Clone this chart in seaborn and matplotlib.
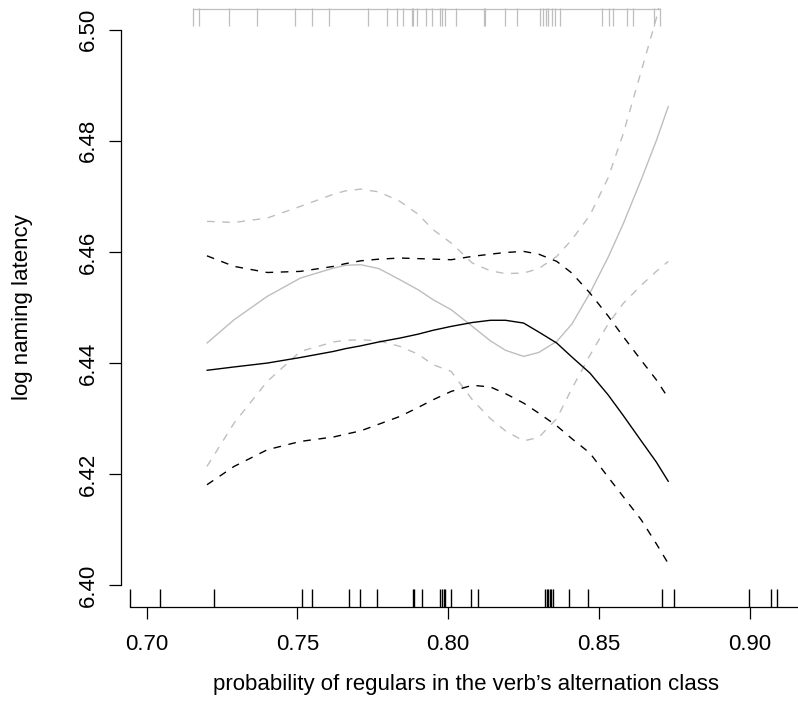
import numpy as np
import pandas as pd
import matplotlib
matplotlib.use("Agg")
import matplotlib.pyplot as plt
import seaborn as sns

# ---------- values ----------
x_grid = [0.720, 0.729, 0.740, 0.751, 0.762, 0.766, 0.771, 0.777, 0.784, 0.790, 0.795, 0.801,
          0.808, 0.814, 0.819, 0.825, 0.830, 0.836, 0.841, 0.847, 0.853, 0.858, 0.864, 0.869,
          0.873]

# grey model: fit and confidence band
grey_fit = [6.4436, 6.4478, 6.4520, 6.4553, 6.4571, 6.4576, 6.4577, 6.4570, 6.4550, 6.4532,
            6.4514, 6.4496, 6.4466, 6.4440, 6.4423, 6.4412, 6.4419, 6.4439, 6.4470, 6.4526,
            6.4590, 6.4650, 6.4730, 6.4800, 6.4862]
grey_hi = [6.4655, 6.4653, 6.4661, 6.4682, 6.4704, 6.4710, 6.4713, 6.4708, 6.4691, 6.4668,
           6.4640, 6.4616, 6.4580, 6.4566, 6.4561, 6.4562, 6.4570, 6.4592, 6.4622, 6.4666,
           6.4733, 6.4812, 6.4925, 6.5020, 6.5120]
grey_lo = [6.4214, 6.4292, 6.4367, 6.4421, 6.4438, 6.4441, 6.4442, 6.4440, 6.4430, 6.4416,
           6.4397, 6.4385, 6.4334, 6.4300, 6.4278, 6.4260, 6.4266, 6.4300, 6.4354, 6.4414,
           6.4470, 6.4507, 6.4540, 6.4565, 6.4583]

# black model: fit and confidence band
black_fit = [6.4387, 6.4393, 6.4400, 6.4410, 6.4421, 6.4426, 6.4431, 6.4438, 6.4445, 6.4452,
             6.4459, 6.4466, 6.4473, 6.4477, 6.4477, 6.4472, 6.4456, 6.4436, 6.4411, 6.4382,
             6.4343, 6.4306, 6.4260, 6.4222, 6.4187]
black_hi = [6.4593, 6.4574, 6.4563, 6.4565, 6.4574, 6.4579, 6.4584, 6.4587, 6.4589, 6.4588,
            6.4587, 6.4586, 6.4592, 6.4596, 6.4599, 6.4601, 6.4596, 6.4583, 6.4562, 6.4526,
            6.4485, 6.4448, 6.4405, 6.4370, 6.4337]
black_lo = [6.4181, 6.4214, 6.4244, 6.4259, 6.4267, 6.4272, 6.4278, 6.4290, 6.4304, 6.4320,
            6.4334, 6.4349, 6.4360, 6.4357, 6.4345, 6.4328, 6.4310, 6.4287, 6.4264, 6.4238,
            6.4195, 6.4160, 6.4118, 6.4075, 6.4039]

# rugs: grey observations on top, black observations at the bottom
rug_top = [0.7155, 0.7175, 0.7274, 0.7367, 0.7492, 0.7550, 0.7604, 0.7733, 0.7796, 0.7831,
           0.7851, 0.7881, 0.7884, 0.7897, 0.7925, 0.7947, 0.7973, 0.7979, 0.7991, 0.8026,
           0.8119, 0.8123, 0.8190, 0.8227, 0.8306, 0.8315, 0.8324, 0.8332, 0.8345, 0.8354,
           0.8372, 0.8509, 0.8534, 0.8547, 0.8594, 0.8612, 0.8684, 0.8701]
rug_bottom = [0.6945, 0.7044, 0.7225, 0.7516, 0.7550, 0.7671, 0.7706, 0.7765, 0.7882, 0.7888,
              0.7912, 0.7973, 0.7979, 0.7985, 0.7991, 0.8008, 0.8075, 0.8100, 0.8322, 0.8327,
              0.8331, 0.8336, 0.8340, 0.8346, 0.8402, 0.8464, 0.8710, 0.8748, 0.8999, 0.9070,
              0.9092]

x_ticks = [0.70, 0.75, 0.80, 0.85, 0.90]
y_ticks = [6.40, 6.42, 6.44, 6.46, 6.48, 6.50]

# ---------- style ----------
sns.set_style("ticks")
plt.rcParams['font.family'] = ['Liberation Sans', 'DejaVu Sans']
plt.rcParams['text.color'] = 'black'
plt.rcParams['axes.labelcolor'] = 'black'
plt.rcParams['xtick.color'] = 'black'
plt.rcParams['ytick.color'] = 'black'
plt.rcParams['axes.edgecolor'] = 'black'
FS = 16
GREY = '#bebebe'

fig = plt.figure(figsize=(7.98, 7.24), dpi=100)
ax = fig.add_axes([121 / 798, 117 / 724, 677 / 798, 599 / 724])

curves = [
    (grey_fit, GREY, '-'), (grey_hi, GREY, '--'), (grey_lo, GREY, '--'),
    (black_fit, 'black', '-'), (black_hi, 'black', '--'), (black_lo, 'black', '--'),
]
for yvals, col, ls in curves:
    sns.lineplot(x=x_grid, y=yvals, color=col, linestyle=ls, lw=1.0, ax=ax)
    if ls == '--':
        ax.lines[-1].set_dashes((5.5, 5.5))

# bottom rug (seaborn) and top rug
sns.rugplot(x=rug_bottom, height=0.03, color='black', lw=0.9, expand_margins=False, ax=ax)
ax.vlines(rug_top, 0.97, 1.0, colors=GREY, lw=0.9, transform=ax.get_xaxis_transform())
ax.hlines(0.9985, min(rug_top), max(rug_top), colors=GREY, lw=0.9,
          transform=ax.get_xaxis_transform())

ax.set_xlim(0.6915, 0.9160)
ax.set_ylim(6.3961, 6.5039)

for side in ['top', 'right']:
    ax.spines[side].set_visible(False)
ax.spines['left'].set_bounds(6.40, 6.50)
ax.spines['bottom'].set_bounds(min(rug_bottom), 0.9160)
ax.spines['left'].set_linewidth(0.9)
ax.spines['bottom'].set_linewidth(0.9)

ax.set_xticks(x_ticks)
ax.set_xticklabels([f"{v:.2f}" for v in x_ticks])
ax.set_yticks(y_ticks)
ax.set_yticklabels([f"{v:.2f}" for v in y_ticks])
ax.tick_params(axis='both', direction='out', length=8.6, width=0.9, labelsize=FS,
               bottom=True, left=True)
ax.tick_params(axis='x', pad=11)
ax.tick_params(axis='y', pad=7, labelrotation=90)
for lab in ax.get_yticklabels():
    lab.set_va('center')

ax.set_xlabel("probability of regulars in the verb\u2019s alternation class", fontsize=FS, va='center')
ax.xaxis.set_label_coords(0.510, -0.1286)
ax.set_ylabel("log naming latency", fontsize=FS, va='center')
ax.yaxis.set_label_coords(-0.146, 0.5)

fig.savefig("out.png", dpi=100)
